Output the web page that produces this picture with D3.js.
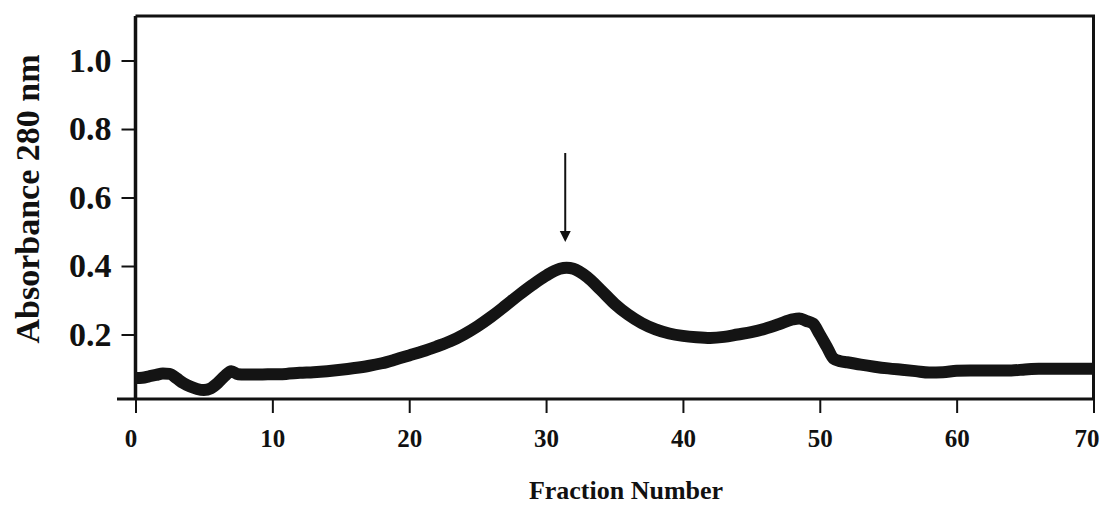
<!DOCTYPE html>
<html>
<head>
<meta charset="utf-8">
<script src="https://cdn.jsdelivr.net/npm/d3@7"></script>
<style>
  body { margin: 0; background: #fff; }
  svg { display: block; }
  text { font-family: "Liberation Serif", "Times New Roman", serif; fill: #111; }
</style>
</head>
<body>
<svg id="chart" width="1104" height="506"></svg>
<script>
// Fraction number vs absorbance
var fractions = [0, 0.5, 1, 1.5, 2, 2.5, 3, 3.5, 4, 4.5, 5, 5.5, 6, 6.5, 7, 7.5, 8, 9, 10,
  11, 12, 13, 14, 15, 16, 17, 18, 19, 20, 21, 22, 23, 24, 25, 26, 27, 28, 29, 30,
  31, 31.5, 32, 33, 34, 35, 36, 37, 38, 39, 40, 41, 42, 43, 44, 45, 46, 47, 48,
  48.5, 49, 49.5, 50, 50.5, 51, 51.5, 52, 53, 54, 55, 56, 57, 58, 59, 60,
  61, 62, 63, 64, 65, 66, 67, 68, 69, 70];
var absorbance = [0.073, 0.074, 0.078, 0.082, 0.086, 0.085, 0.072, 0.058, 0.048, 0.041, 0.038, 0.043, 0.058, 0.078, 0.093, 0.084, 0.083, 0.083, 0.084,
  0.085, 0.088, 0.090, 0.093, 0.097, 0.102, 0.108, 0.116, 0.127, 0.139, 0.151, 0.165, 0.180, 0.200, 0.224, 0.252, 0.283, 0.315, 0.345, 0.372,
  0.392, 0.395, 0.392, 0.368, 0.330, 0.290, 0.258, 0.233, 0.215, 0.203, 0.196, 0.192, 0.190, 0.193, 0.200, 0.207, 0.217, 0.230, 0.244,
  0.247, 0.240, 0.232, 0.200, 0.165, 0.130, 0.122, 0.119, 0.112, 0.106, 0.101, 0.097, 0.093, 0.089, 0.090, 0.094,
  0.095, 0.095, 0.095, 0.095, 0.098, 0.100, 0.100, 0.100, 0.100, 0.100];

var xTicks = [0, 10, 20, 30, 40, 50, 60, 70];
var yTicks = [0.2, 0.4, 0.6, 0.8, 1.0];

// arrow over the main peak: [fraction, top value, tip value]
var arrowMark = [31.4, 0.73, 0.47];

var svg = d3.select('#chart');

var plotL = 135.5, plotR = 1093.5, plotT = 16, plotB = 399;

var x = d3.scaleLinear().domain([0, 70]).range([plotL, plotR]);
var y = d3.scaleLinear().domain([0, 1.13]).range([403, plotT]);

// x axis
var xAxis = svg.append('g')
  .attr('transform', 'translate(0,' + plotB + ')')
  .call(d3.axisBottom(x).tickValues(xTicks).tickSize(14).tickPadding(16).tickFormat(d3.format('d')));
xAxis.select('.domain').remove();
xAxis.selectAll('line').attr('stroke', '#111').attr('stroke-width', 2);
xAxis.selectAll('text')
  .style('font-size', '25px')
  .style('font-weight', 'bold')
  .attr('dx', function(d) { return d === 0 ? -5 : (d === 70 ? -7 : 0); });

// y axis
var yAxis = svg.append('g')
  .attr('transform', 'translate(' + plotL + ',0)')
  .call(d3.axisLeft(y).tickValues(yTicks).tickSize(14).tickPadding(10).tickFormat(d3.format('.1f')));
yAxis.select('.domain').remove();
yAxis.selectAll('line').attr('stroke', '#111').attr('stroke-width', 2);
yAxis.selectAll('text')
  .style('font-size', '34px')
  .style('font-weight', 'bold');

// frame
svg.append('path')
  .attr('d', 'M' + plotL + ',' + plotT + 'H' + plotR + 'V' + plotB)
  .attr('fill', 'none').attr('stroke', '#111').attr('stroke-width', 3);
svg.append('line')
  .attr('x1', plotL).attr('x2', plotL).attr('y1', plotT).attr('y2', plotB)
  .attr('stroke', '#111').attr('stroke-width', 3.5);
svg.append('line')
  .attr('x1', 117).attr('x2', plotR).attr('y1', plotB).attr('y2', plotB)
  .attr('stroke', '#111').attr('stroke-width', 3);

// trace
var pts = fractions.map(function(f, i) { return [f, absorbance[i]]; });
var line = d3.line()
  .x(function(d) { return x(d[0]); })
  .y(function(d) { return y(d[1]); })
  .curve(d3.curveMonotoneX);

svg.append('path')
  .datum(pts)
  .attr('d', line)
  .attr('fill', 'none')
  .attr('stroke', '#141414')
  .attr('stroke-width', 12)
  .attr('stroke-linejoin', 'round')
  .attr('stroke-linecap', 'butt');

// arrow
var ax = x(arrowMark[0]);
svg.append('line')
  .attr('x1', ax).attr('x2', ax)
  .attr('y1', y(arrowMark[1])).attr('y2', y(arrowMark[2]) - 8)
  .attr('stroke', '#111').attr('stroke-width', 2);
svg.append('path')
  .attr('d', 'M' + (ax - 5.5) + ',' + (y(arrowMark[2]) - 11) + 'L' + (ax + 5.5) + ',' + (y(arrowMark[2]) - 11) + 'L' + ax + ',' + y(arrowMark[2]) + 'Z')
  .attr('fill', '#111');

// axis titles
svg.append('text')
  .attr('x', 626).attr('y', 499)
  .attr('text-anchor', 'middle')
  .style('font-size', '26px')
  .style('font-weight', 'bold')
  .text('Fraction Number');

svg.append('text')
  .attr('transform', 'translate(39,199) rotate(-90)')
  .attr('text-anchor', 'middle')
  .style('font-size', '34px')
  .style('font-weight', 'bold')
  .text('Absorbance 280 nm');
</script>
</body>
</html>
